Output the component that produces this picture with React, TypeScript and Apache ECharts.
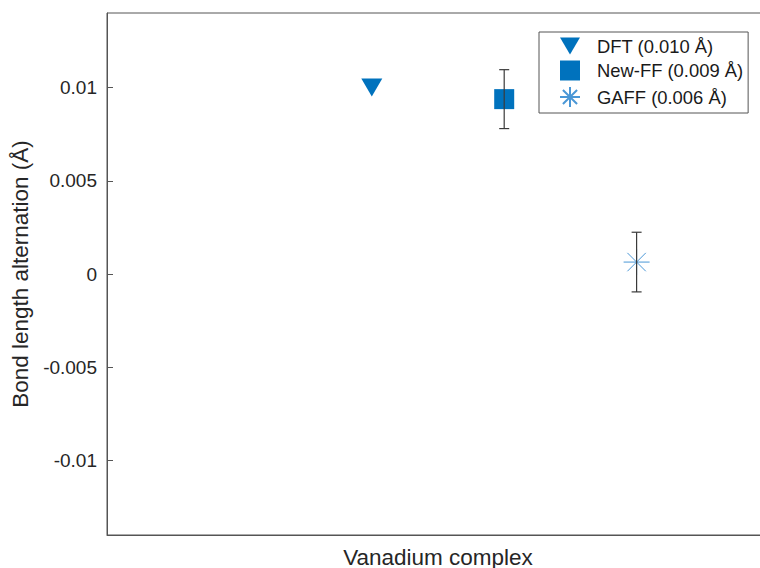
import React, { useEffect, useRef } from "react";
import * as echarts from "echarts";

const seriesNames = ["DFT (0.010 Å)", "New-FF (0.009 Å)", "GAFF (0.006 Å)"];
const xPositions = [0.4, 0.6, 0.8];
const meanValues = [0.01, 0.00938, 0.00064];
const errorValues = [0, 0.00158, 0.0016];
const yTickLabels = ["-0.01", "-0.005", "0", "0.005", "0.01"];
const xAxisTitle = "Vanadium complex";
const yAxisTitle = "Bond length alternation (Å)";

const FONT = "'Liberation Sans', Arial, Helvetica, sans-serif";
const BLUE = "#0072BD";
const LIGHTBLUE = "#4a97d6";

export default function App() {
  const ref = useRef<HTMLDivElement>(null);
  useEffect(() => {
    document.body.style.margin = "0";
    const chart = echarts.init(ref.current!, undefined, { renderer: "svg", width: 760, height: 568 });
    const symbols = [
      "path://M0,0 L20,0 L10,17 Z",
      "rect",
      "path://M0,13 L26,13 M13,0 L13,26 M3.8,3.8 L22.2,22.2 M22.2,3.8 L3.8,22.2",
    ];
    const sizes: any[] = [[21, 18], 20, 26];
    const scatterSeries = seriesNames.map((name, i) => ({
      name,
      type: "scatter",
      symbol: symbols[i],
      symbolSize: sizes[i],
      symbolKeepAspect: false,
      itemStyle:
        i === 2
          ? { color: "rgba(0,0,0,0)", borderColor: LIGHTBLUE, borderWidth: 1, opacity: 1 }
          : { color: BLUE, opacity: 1 },
      data: [[xPositions[i], meanValues[i]]],
      z: 2,
    }));
    const errData = xPositions
      .map((x, i) => [x, meanValues[i], errorValues[i]])
      .filter((d) => d[2] > 0);
    const option: any = {
      animation: false,
      textStyle: { fontFamily: FONT },
      grid: {
        left: 107,
        top: 13,
        height: 522,
        width: 662,
        outerBoundsMode: "none",
        containLabel: false,
        show: true,
        borderColor: "#555",
        borderWidth: 1,
        backgroundColor: "#fff",
      },
      legend: {
        orient: "vertical",
        left: 539,
        top: 32,
        data: seriesNames,
        itemWidth: 20,
        itemHeight: 20,
        itemGap: 5.5,
        padding: [5, 5, 5, 20],
        borderColor: "#555",
        borderWidth: 1,
        backgroundColor: "#fff",
        textStyle: {
          fontSize: 18.4,
          color: "#1a1a1a",
          fontFamily: FONT,
          padding: [0, 0, 0, 12],
        },
      },
      xAxis: {
        type: "value",
        min: 0,
        max: 1,
        name: xAxisTitle,
        nameLocation: "middle",
        nameGap: 11,
        nameTextStyle: { fontSize: 22.5, color: "#262626", fontFamily: FONT, verticalAlign: "top" },
        axisLine: { show: true, onZero: false, lineStyle: { color: "#555" } },
        axisTick: { show: false },
        axisLabel: { show: false },
        splitLine: { show: false },
      },
      yAxis: {
        type: "value",
        min: -0.014,
        max: 0.014,
        splitNumber: 6,
        name: yAxisTitle,
        nameLocation: "middle",
        nameGap: 74,
        nameTextStyle: { fontSize: 22.5, color: "#262626", fontFamily: FONT },
        axisLine: { show: true, onZero: false, lineStyle: { color: "#555" } },
        axisTick: { show: true, inside: true, length: 6, lineStyle: { color: "#555" } },
        axisLabel: {
          fontSize: 19,
          color: "#262626",
          fontFamily: FONT,
          margin: 10,
          showMinLabel: false,
          showMaxLabel: false,
          formatter: (v: number) => {
            const s = String(+v.toFixed(3));
            return yTickLabels.includes(s) ? s : "";
          },
        },
        splitLine: { show: false },
      },
      series: [
        ...scatterSeries,
        {
          type: "custom",
          name: "errorbars",
          z: 5,
          data: errData,
          renderItem: (params: any, api: any) => {
            const x = api.value(0);
            const y = api.value(1);
            const e = api.value(2);
            const top = api.coord([x, y + e]);
            const bot = api.coord([x, y - e]);
            const hw = 5;
            const style = { stroke: "#3a3a3a", lineWidth: 1.2 };
            return {
              type: "group",
              children: [
                { type: "line", shape: { x1: top[0], y1: top[1], x2: bot[0], y2: bot[1] }, style },
                { type: "line", shape: { x1: top[0] - hw, y1: top[1], x2: top[0] + hw, y2: top[1] }, style },
                { type: "line", shape: { x1: bot[0] - hw, y1: bot[1], x2: bot[0] + hw, y2: bot[1] }, style },
              ],
            };
          },
        },
      ],
    };
    chart.setOption(option);
    return () => chart.dispose();
  }, []);
  return <div ref={ref} style={{ width: 760, height: 568, overflow: "hidden" }} />;
}
